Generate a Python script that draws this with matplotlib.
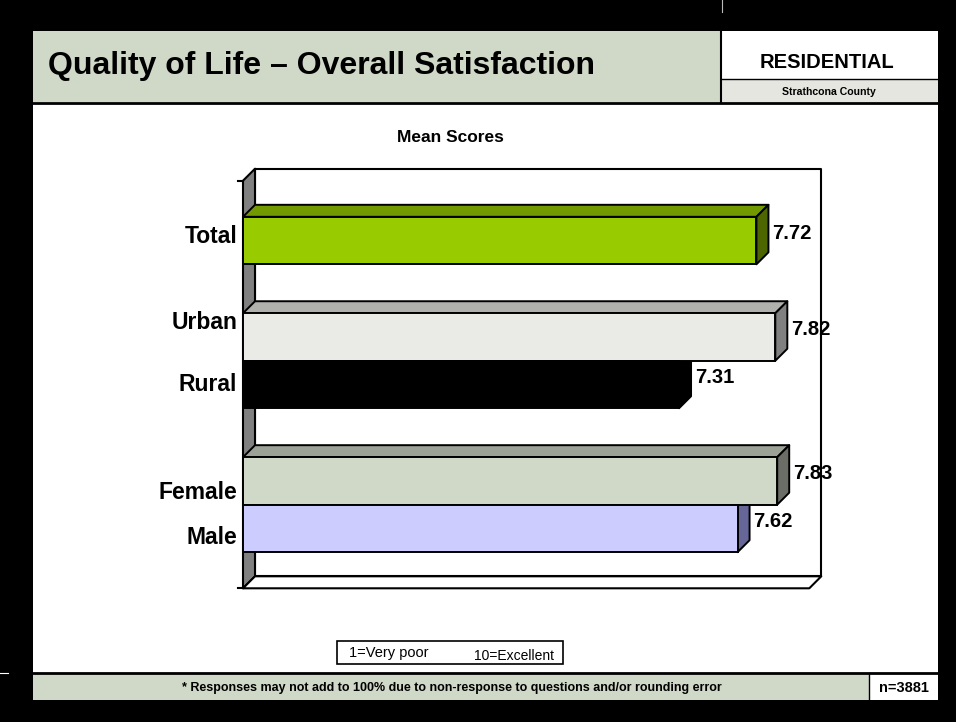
import matplotlib
matplotlib.use("Agg")
import matplotlib.pyplot as plt
from matplotlib.patches import Rectangle, Polygon

plt.rcParams["font.family"] = ["Liberation Sans", "DejaVu Sans"]

# Data
categories = ["Total", "Urban", "Rural", "Female", "Male"]
mean_scores = [7.72, 7.82, 7.31, 7.83, 7.62]
groups = ["All", "Area", "Area", "Gender", "Gender"]
axis_min, axis_max = 5, 8

title = "Quality of Life \u2013 Overall Satisfaction"
chart_title = "Mean Scores"
scale_note = ["1=Very poor", "10=Excellent"]
footnote = "* Responses may not add to 100% due to non-response to questions and/or rounding error"
sample_size = "n=3881"

# Styles: (front, top, side)
bar_colors = {
    "Total": ("#99CC00", "#739900", "#4D6600"),
    "Urban": ("#EAEAE6", "#B0B0AC", "#808080"),
    "Rural": ("#000000", "#000000", "#000000"),
    "Female": ("#D0D8C8", "#9CA296", "#6A6E66"),
    "Male": ("#CCCCFF", "#9999CC", "#666699"),
}
label_nudge = {"Total": -4, "Urban": -14, "Rural": 0, "Female": 12, "Male": 9}
SAGE = "#D0D8C8"
DX, DY = 12, 12  # 3-D depth in pixels

W, H = 956, 722
fig = plt.figure(figsize=(W / 100, H / 100), dpi=100, facecolor="black")

# ---- page frame in pixel coordinates ----
bg = fig.add_axes([0, 0, 1, 1])
bg.set_xlim(0, W)
bg.set_ylim(H, 0)
bg.axis("off")


def box(x0, y0, x1, y1, fc, ec="none", lw=0):
    bg.add_patch(Rectangle((x0, y0), x1 - x0, y1 - y0, facecolor=fc,
                           edgecolor=ec, linewidth=lw))


box(33, 31, 938, 700, "white")
box(33, 31, 721, 102, SAGE)
box(721, 31, 938, 79, "white")
box(721, 79, 938, 102, "#E6E6E1")
bg.plot([721, 721], [31, 102], color="black", lw=1.5)
bg.plot([721, 938], [79, 79], color="black", lw=1.0)
bg.plot([33, 938], [102.5, 102.5], color="black", lw=2)
box(33, 673, 938, 700, SAGE)
box(869, 673, 938, 700, "white")
bg.plot([33, 938], [673, 673], color="black", lw=2)
bg.plot([869, 869], [673, 700], color="black", lw=1.0)
bg.plot([722, 722], [0, 12], color="#BBBBBB", lw=0.8)
bg.plot([0, 8], [673, 673], color="white", lw=0.8)

bg.text(48, 74.3, title, fontsize=23, fontweight="bold", va="baseline", ha="left")
bg.text(827, 68.3, "RESIDENTIAL", fontsize=14.5, fontweight="bold", va="baseline", ha="center")
bg.text(829, 95, "Strathcona County", fontsize=7.6, fontweight="bold", va="baseline", ha="center")
bg.text(450, 142, chart_title, fontsize=12.5, fontweight="bold", va="baseline", ha="center")
bg.text(452, 691, footnote, fontsize=9, fontweight="bold", va="baseline", ha="center")
bg.text(904, 692, sample_size, fontsize=10.5, fontweight="bold", va="baseline", ha="center")

box(337, 641, 563, 664, "white", "black", 1.2)
bg.text(349, 657.5, scale_note[0], fontsize=10.5, va="baseline", ha="left")
bg.text(474, 659.5, scale_note[1], fontsize=10, va="baseline", ha="left")

# ---- chart ----
fx0, fx1, fy0, fy1 = 243, 809.3, 180.7, 588.3
ax = fig.add_axes([fx0 / W, 1 - fy1 / H, (fx1 - fx0) / W, (fy1 - fy0) / H])
ax.axis("off")

margin, gap = 0.76, 1.03
ypos = []
cur = margin
for i, g in enumerate(groups):
    if i > 0 and g != groups[i - 1]:
        cur += gap
    ypos.append(cur + 0.5)
    cur += 1
ybot = cur + margin
ax.set_xlim(axis_min, axis_max)
ax.set_ylim(ybot, 0)


def depth(x, y, dx=DX, dy=DY):
    px, py = ax.transData.transform((x, y))
    return tuple(ax.transData.inverted().transform((px + dx, py + dy)))


def face(pts, fc, z, lw=1.4):
    ax.add_patch(Polygon(pts, closed=True, facecolor=fc, edgecolor="black",
                         linewidth=lw, joinstyle="round", zorder=z, clip_on=False))


x0, x1 = axis_min, axis_max
face([depth(x0, 0), depth(x1, 0), depth(x1, ybot), depth(x0, ybot)], "white", 1, 1.5)
face([(x0, 0), depth(x0, 0), depth(x0, ybot), (x0, ybot)], "#808080", 1, 1.5)
face([(x0, ybot), (x1, ybot), depth(x1, ybot), depth(x0, ybot)], "white", 1, 1.5)
for yy in (0, ybot):
    ax.plot([depth(x0, yy, -5, 0)[0], x0], [yy, yy], color="black", lw=1.5,
            clip_on=False, zorder=1)

fronts = [bar_colors[c][0] for c in categories]
for cat, v, y in zip(categories, mean_scores, ypos):
    _, top_c, side_c = bar_colors[cat]
    t, b = y - 0.5, y + 0.5
    face([(x0, t), (v, t), depth(v, t), depth(x0, t)], top_c, 2)
    face([(v, t), (v, b), depth(v, b), depth(v, t)], side_c, 2)

ax.barh(ypos, [v - axis_min for v in mean_scores], left=axis_min, height=1,
        color=fronts, edgecolor="black", linewidth=1.4, zorder=3, clip_on=False)

for cat, v, y in zip(categories, mean_scores, ypos):
    ax.annotate(f"{v:.2f}", (v, y), xytext=(DX + 4, DY / 2 + 1),
                textcoords="offset pixels", ha="left", va="center",
                fontsize=14.5, fontweight="bold", zorder=5, annotation_clip=False)
    ax.annotate(cat, (axis_min, y), xytext=(-6, -label_nudge[cat]),
                textcoords="offset pixels", ha="right", va="center",
                fontsize=16.5, fontweight="bold", zorder=5, annotation_clip=False)

fig.savefig("out.png", dpi=100, facecolor="black")
